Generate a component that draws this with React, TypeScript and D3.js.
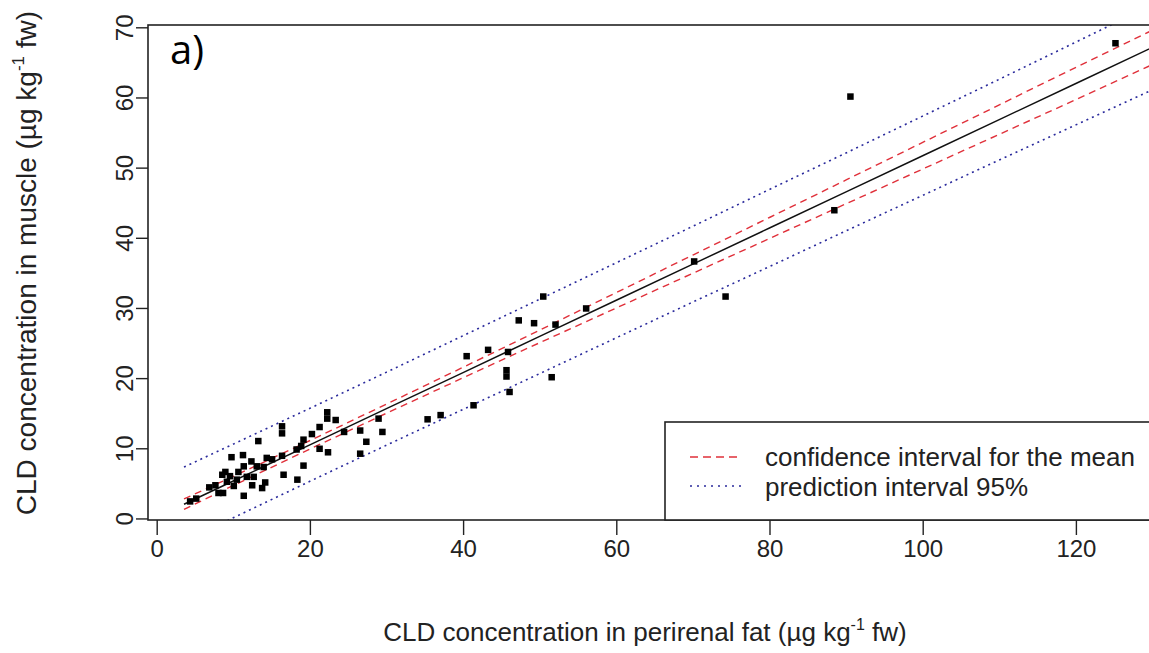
import React from 'react';
import * as d3 from 'd3';

// CLD in perirenal fat (x) vs muscle (y)
const fatValues = [
  4.3, 5.1, 6.8, 7.6, 8.0, 8.6, 8.9, 8.5, 9.5, 10.6, 9.1, 10.4, 11.7, 10.0, 11.3, 12.4,
  9.7, 11.2, 12.3, 13.0, 12.6, 13.2, 14.3, 15.0, 14.1, 13.7, 11.3, 13.9,
  16.3, 16.3, 16.3, 16.5, 18.3, 19.1, 19.1, 18.8, 18.2, 20.2, 21.2, 21.2, 22.3,
  22.2, 22.2, 23.3, 24.4, 26.5, 27.3, 26.5, 28.9, 29.4, 35.3, 37.0, 41.3,
  40.4, 43.2, 45.8, 45.6, 45.6, 46.0, 51.5, 47.2, 49.2, 52.0, 50.4, 56.0,
  70.1, 74.2, 88.4, 90.5, 125.1,
];
const muscleValues = [
  2.5, 2.9, 4.5, 4.8, 3.7, 3.7, 6.7, 6.3, 6.1, 6.7, 5.3, 5.6, 6.0, 4.7, 3.3, 4.8,
  8.8, 9.1, 8.2, 7.5, 6.0, 11.1, 8.7, 8.5, 5.2, 4.4, 7.5, 7.4,
  13.2, 12.2, 9.0, 6.3, 5.6, 7.6, 11.3, 10.4, 9.9, 12.1, 13.1, 10.0, 9.5,
  15.2, 14.3, 14.1, 12.4, 12.6, 11.0, 9.3, 14.3, 12.4, 14.2, 14.8, 16.2,
  23.2, 24.1, 23.8, 21.2, 20.3, 18.1, 20.2, 28.3, 27.9, 27.7, 31.7, 30.0,
  36.7, 31.7, 44.0, 60.2, 67.8,
];

// regression line and interval half-widths, read at these x positions
const bandX = [3.5, 10, 20, 30, 40, 50, 60, 70, 80, 90, 100, 110, 120, 130];
const fitValues = [2.1, 5.45, 10.6, 15.75, 20.9, 26.05, 31.2, 36.35, 41.5, 46.65, 51.8, 56.95, 62.1, 67.25];
const confHalf = [0.75, 0.65, 0.6, 0.65, 0.75, 0.9, 1.1, 1.3, 1.5, 1.7, 1.9, 2.1, 2.3, 2.45];
const predHalf = [5.3, 5.25, 5.2, 5.2, 5.25, 5.3, 5.35, 5.4, 5.5, 5.55, 5.65, 5.75, 5.9, 6.05];

const xTicks = [0, 20, 40, 60, 80, 100, 120];
const yTicks = [0, 10, 20, 30, 40, 50, 60, 70];
const legendLabels = ['confidence interval for the mean', 'prediction interval 95%'];

const W = 1149;
const H = 653;
const font = '"Liberation Sans", Arial, sans-serif';
const ink = '#222';
const red = '#e0303a';
const blue = '#2a2a9c';

const App: React.FC = () => {
  const x = d3.scaleLinear().domain([-1.2, 130]).range([148, 1153]);
  const y = d3.scaleLinear().domain([-0.15, 70.4]).range([520, 25]);

  const line = (vals: number[]) =>
    d3
      .line<number>()
      .x((_, i) => x(bandX[i]))
      .y(d => y(d))(vals) || '';

  const upperConf = fitValues.map((f, i) => f + confHalf[i]);
  const lowerConf = fitValues.map((f, i) => f - confHalf[i]);
  const upperPred = fitValues.map((f, i) => f + predHalf[i]);
  const lowerPred = fitValues.map((f, i) => f - predHalf[i]);

  const [x0, x1] = x.range();
  const [yb, yt] = y.range();
  const sq = 6.5;

  return (
    <svg
      width={W}
      height={H}
      style={{ position: 'absolute', left: 0, top: 0, background: '#fff' }}
      fontFamily={font}
    >
      <defs>
        <clipPath id="plot">
          <rect x={x0} y={yt} width={x1 - x0} height={yb - yt} />
        </clipPath>
      </defs>

      <g clipPath="url(#plot)">
        <path d={line(upperPred)} fill="none" stroke={blue} strokeWidth={1.6} strokeDasharray="2,4" />
        <path d={line(lowerPred)} fill="none" stroke={blue} strokeWidth={1.6} strokeDasharray="2,4" />
        <path d={line(upperConf)} fill="none" stroke={red} strokeWidth={1.4} strokeDasharray="7,5" />
        <path d={line(lowerConf)} fill="none" stroke={red} strokeWidth={1.4} strokeDasharray="7,5" />
        <path d={line(fitValues)} fill="none" stroke="#111" strokeWidth={1.5} />
        {fatValues.map((v, i) => (
          <rect
            key={i}
            x={x(v) - sq / 2}
            y={y(muscleValues[i]) - sq / 2}
            width={sq}
            height={sq}
            fill="#000"
          />
        ))}
      </g>

      {/* plot box */}
      <rect x={x0} y={yt} width={x1 - x0} height={yb - yt} fill="none" stroke={ink} strokeWidth={1.6} />

      {/* x axis */}
      {xTicks.map(t => (
        <g key={t}>
          <line x1={x(t)} x2={x(t)} y1={yb} y2={yb + 15} stroke={ink} strokeWidth={1.4} />
          <text x={x(t)} y={yb + 37} textAnchor="middle" fontSize={24} fill={ink}>
            {t}
          </text>
        </g>
      ))}

      {/* y axis */}
      {yTicks.map(t => (
        <g key={t}>
          <line x1={x0} x2={x0 - 12} y1={y(t)} y2={y(t)} stroke={ink} strokeWidth={1.4} />
          <text
            transform={`translate(${x0 - 15},${y(t)}) rotate(-90)`}
            textAnchor="middle"
            fontSize={24}
            fill={ink}
          >
            {t}
          </text>
        </g>
      ))}

      <text x={645} y={641} textAnchor="middle" fontSize={26} fill={ink}>
        CLD concentration in perirenal fat (µg kg
        <tspan fontSize={16} dy={-11}>-1</tspan>
        <tspan dy={11}> fw)</tspan>
      </text>
      <text transform={`translate(36,263) rotate(-90)`} textAnchor="middle" fontSize={28} fill={ink}>
        CLD concentration in muscle (µg kg
        <tspan fontSize={17} dy={-12}>-1</tspan>
        <tspan dy={12}> fw)</tspan>
      </text>

      {/* panel label */}
      <text x={170} y={64} fontSize={40} fontFamily='"Open Sans", sans-serif' fill="#000">
        a)
      </text>

      {/* legend */}
      <rect x={665} y={422} width={W - 665 + 10} height={yb - 422} fill="#fff" stroke={ink} strokeWidth={1.6} />
      <line x1={690} x2={742} y1={457} y2={457} stroke={red} strokeWidth={1.4} strokeDasharray="8,5" />
      <line x1={690} x2={742} y1={486} y2={486} stroke={blue} strokeWidth={1.6} strokeDasharray="2,5" />
      {legendLabels.map((l, i) => (
        <text key={l} x={765} y={466 + i * 30} fontSize={26} fill={ink}>
          {l}
        </text>
      ))}
    </svg>
  );
};

export default App;
